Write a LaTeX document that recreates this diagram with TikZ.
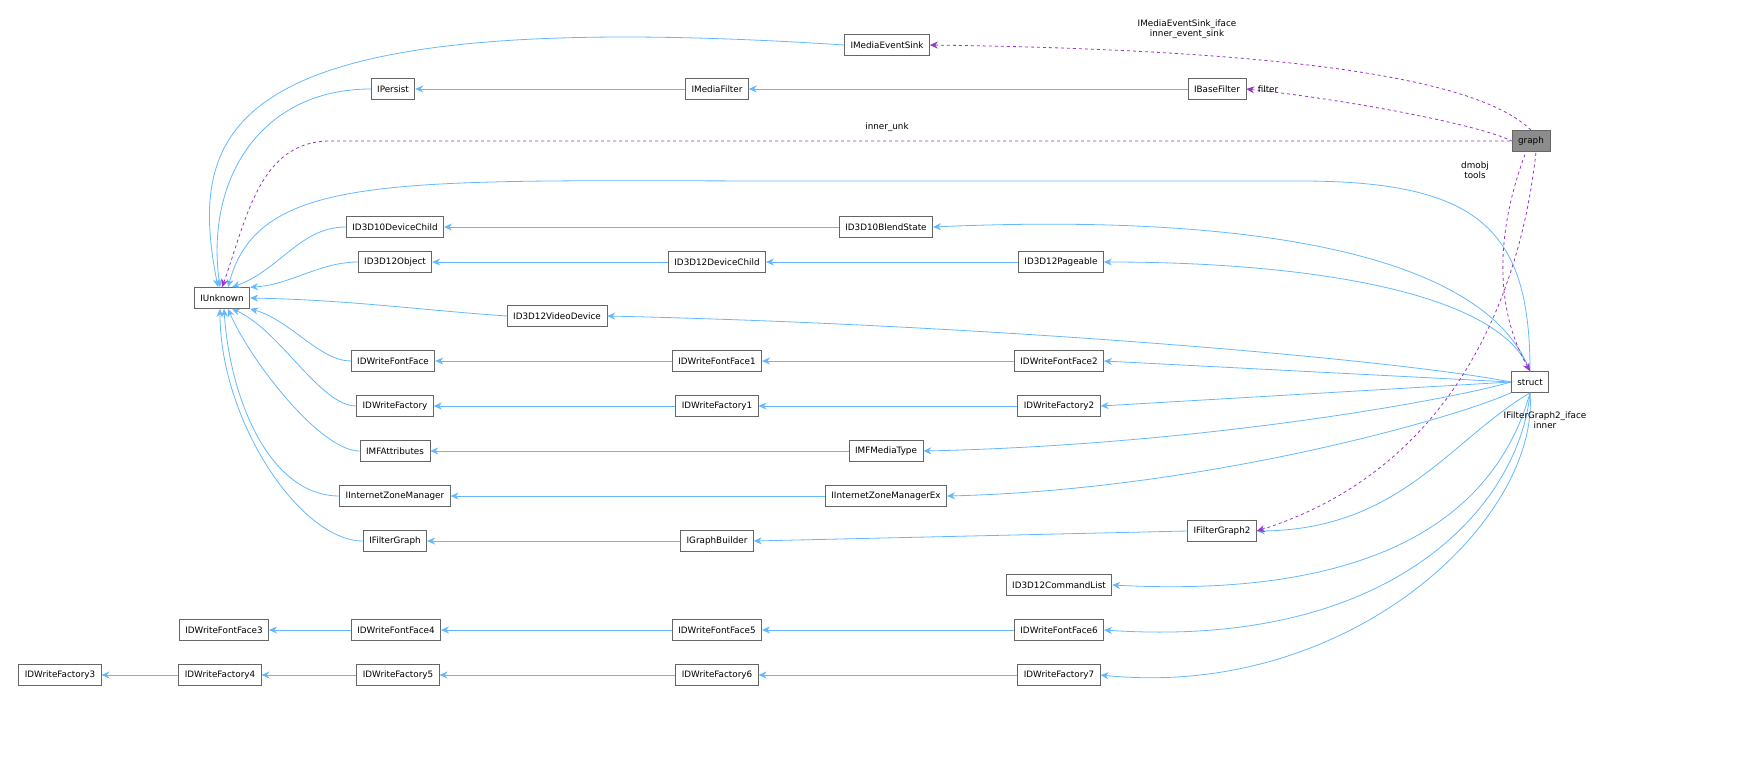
\documentclass[tikz,border=0pt]{standalone}
\usepackage{fontspec}
\setmainfont{DejaVu Sans}
\usetikzlibrary{arrows.meta}
\definecolor{eb}{HTML}{63B8FF}
\definecolor{ep}{HTML}{9A32CD}
\begin{document}
\begin{tikzpicture}[x=1pt,y=-1pt,
 box/.style={draw=black!60,fill=white,minimum height=21pt,inner xsep=6pt,font=\fontsize{8.8}{10}\selectfont,line width=0.7pt},
 inh/.style={draw=eb,line width=0.8pt,{Stealth[length=8pt,width=7pt]}-},
 use/.style={draw=ep,line width=0.8pt,dashed,{Stealth[length=8pt,width=7pt]}-},
 lab/.style={font=\fontsize{8.8}{10}\selectfont,align=center}]
\useasboundingbox (0,0) rectangle (1759,776);
\node[box,fill=black!45] (graph) at (1531,141) {graph};
\node[box] (mes) at (887,45) {IMediaEventSink};
\node[box] (bf) at (1217,89) {IBaseFilter};
\node[box] (per) at (393,89) {IPersist};
\node[box] (mf) at (717,89) {IMediaFilter};
\node[box] (unk) at (222,298) {IUnknown};
\node[box] (d10c) at (395,227) {ID3D10DeviceChild};
\node[box] (d10b) at (886,227) {ID3D10BlendState};
\node[box] (d12o) at (395,262) {ID3D12Object};
\node[box] (d12c) at (717,262) {ID3D12DeviceChild};
\node[box] (d12p) at (1061,262) {ID3D12Pageable};
\node[box] (vd) at (557,316) {ID3D12VideoDevice};
\node[box] (ff) at (393,361) {IDWriteFontFace};
\node[box] (ff1) at (717,361) {IDWriteFontFace1};
\node[box] (ff2) at (1059,361) {IDWriteFontFace2};
\node[box] (st) at (1530,382) {struct};
\node[box] (fa) at (395,406) {IDWriteFactory};
\node[box] (fa1) at (717,406) {IDWriteFactory1};
\node[box] (fa2) at (1059,406) {IDWriteFactory2};
\node[box] (mfa) at (395,451) {IMFAttributes};
\node[box] (mt) at (886,451) {IMFMediaType};
\node[box] (izm) at (395,496) {IInternetZoneManager};
\node[box] (izx) at (886,496) {IInternetZoneManagerEx};
\node[box] (fg) at (395,541) {IFilterGraph};
\node[box] (gb) at (717,541) {IGraphBuilder};
\node[box] (fg2) at (1222,531) {IFilterGraph2};
\node[box] (cl) at (1059,585) {ID3D12CommandList};
\node[box] (ff3) at (224,630) {IDWriteFontFace3};
\node[box] (ff4) at (396,630) {IDWriteFontFace4};
\node[box] (ff5) at (717,630) {IDWriteFontFace5};
\node[box] (ff6) at (1059,630) {IDWriteFontFace6};
\node[box] (fa3) at (60,675) {IDWriteFactory3};
\node[box] (fa4) at (220,675) {IDWriteFactory4};
\node[box] (fa5) at (398,675) {IDWriteFactory5};
\node[box] (fa6) at (717,675) {IDWriteFactory6};
\node[box] (fa7) at (1059,675) {IDWriteFactory7};
% inheritance chains
\draw[inh] (per.east) -- (mf.west);
\draw[inh] (mf.east) -- (bf.west);
\draw[inh] (d10c.east) -- (d10b.west);
\draw[inh] (d12o.east) -- (d12c.west);
\draw[inh] (d12c.east) -- (d12p.west);
\draw[inh] (ff.east) -- (ff1.west);
\draw[inh] (ff1.east) -- (ff2.west);
\draw[inh] (fa.east) -- (fa1.west);
\draw[inh] (fa1.east) -- (fa2.west);
\draw[inh] (mfa.east) -- (mt.west);
\draw[inh] (izm.east) -- (izx.west);
\draw[inh] (fg.east) -- (gb.west);
\draw[inh] (gb.east) -- (fg2.west);
\draw[inh] (ff3.east) -- (ff4.west);
\draw[inh] (ff4.east) -- (ff5.west);
\draw[inh] (ff5.east) -- (ff6.west);
\draw[inh] (fa3.east) -- (fa4.west);
\draw[inh] (fa4.east) -- (fa5.west);
\draw[inh] (fa5.east) -- (fa6.west);
\draw[inh] (fa6.east) -- (fa7.west);
% to IUnknown
\draw[inh] ([xshift=-4pt]unk.north) .. controls (185,120) and (230,5) .. (mes.west);
\draw[inh] ([xshift=-2pt]unk.north) .. controls (205,180) and (260,89) .. (per.west);
\draw[inh] ([xshift=6pt]unk.north) .. controls (260,170) and (400,181) .. (800,181) -- (1300,181) .. controls (1480,181) and (1530,230) .. (st.north);
\draw[inh] ([xshift=10pt]unk.north) .. controls (280,270) and (300,227) .. (d10c.west);
\draw[inh] (unk.north east) .. controls (290,285) and (320,262) .. (d12o.west);
\draw[inh] (unk.east) .. controls (350,300) and (420,310) .. (vd.west);
\draw[inh] (unk.south east) .. controls (290,320) and (320,361) .. (ff.west);
\draw[inh] ([xshift=10pt]unk.south) .. controls (280,330) and (320,406) .. (fa.west);
\draw[inh] ([xshift=6pt]unk.south) .. controls (250,360) and (320,451) .. (mfa.west);
\draw[inh] ([xshift=2pt]unk.south) .. controls (230,400) and (270,496) .. (izm.west);
\draw[inh] ([xshift=-2pt]unk.south) .. controls (220,420) and (300,541) .. (fg.west);
% struct edges
\draw[inh] (d10b.east) .. controls (1200,215) and (1480,240) .. (st.north);
\draw[inh] (d12p.east) .. controls (1300,262) and (1500,290) .. (st.north);
\draw[inh] (vd.east) .. controls (1000,325) and (1400,360) .. (st.west);
\draw[inh] (ff2.east) -- (st.west);
\draw[inh] (fa2.east) -- (st.west);
\draw[inh] (mt.east) .. controls (1200,445) and (1450,400) .. (st.west);
\draw[inh] (izx.east) .. controls (1200,490) and (1450,420) .. (st.south west);
\draw[inh] (fg2.east) .. controls (1400,530) and (1450,440) .. (st.south);
\draw[inh] (cl.east) .. controls (1400,600) and (1500,500) .. (st.south);
\draw[inh] (ff6.east) .. controls (1400,650) and (1520,500) .. (st.south);
\draw[inh] (fa7.east) .. controls (1350,700) and (1540,520) .. (st.south);
% usage
\coordinate (k1) at (330,141);
\draw[use] (mes.east) .. controls (1300,50) and (1480,80) .. (graph.north);
\draw[use] (bf.east) .. controls (1350,100) and (1480,125) .. (graph.west);
\draw[use] (unk.north) to[out=70,in=180] (k1) -- (graph.west);
\draw[use] (st.north) .. controls (1490,300) and (1500,220) .. ([xshift=-5pt]graph.south);
\draw[use] (fg2.east) .. controls (1450,470) and (1520,300) .. ([xshift=5pt]graph.south);
\node[lab] at (1187,29) {IMediaEventSink\_iface\\inner\_event\_sink};
\node[lab] at (1268,89) {filter};
\node[lab] at (887,127) {inner\_unk};
\node[lab] at (1475,170) {dmobj\\tools};
\node[lab] at (1545,420) {IFilterGraph2\_iface\\inner};
\end{tikzpicture}
\end{document}
